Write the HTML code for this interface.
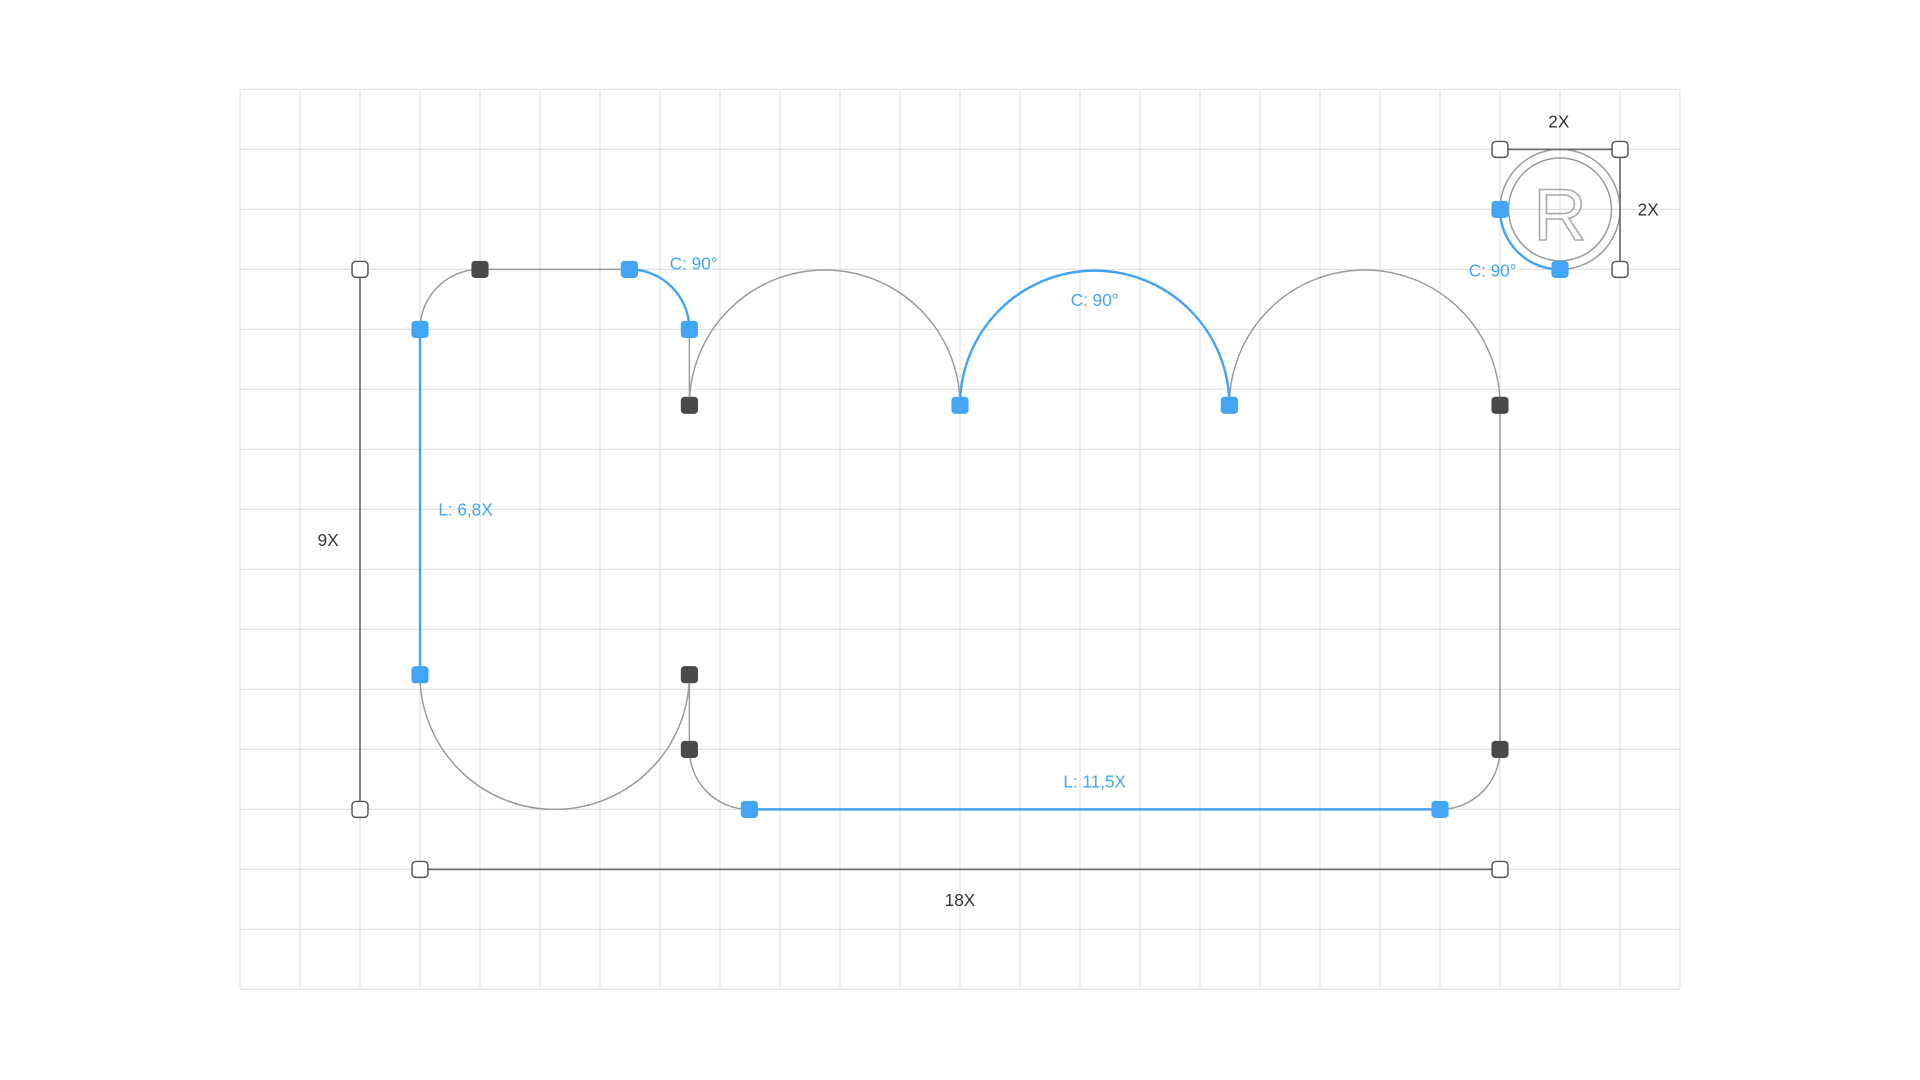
<!DOCTYPE html>
<html><head><meta charset="utf-8"><style>
html,body{margin:0;padding:0;background:#fff;width:1920px;height:1080px;overflow:hidden}
svg{display:block}
text{font-family:"Liberation Sans",sans-serif;font-size:14px}
</style></head><body>
<svg width="1920" height="1080" viewBox="0 0 1568 882" preserveAspectRatio="none" xmlns="http://www.w3.org/2000/svg">
<g stroke="#e2e2e2" stroke-width="1" fill="none">
<path d="M196 73V808M245 73V808M294 73V808M343 73V808M392 73V808M441 73V808M490 73V808M539 73V808M588 73V808M637 73V808M686 73V808M735 73V808M784 73V808M833 73V808M882 73V808M931 73V808M980 73V808M1029 73V808M1078 73V808M1127 73V808M1176 73V808M1225 73V808M1274 73V808M1323 73V808M1372 73V808"/>
<path d="M196 73H1372M196 122H1372M196 171H1372M196 220H1372M196 269H1372M196 318H1372M196 367H1372M196 416H1372M196 465H1372M196 514H1372M196 563H1372M196 612H1372M196 661H1372M196 710H1372M196 759H1372M196 808H1372"/>
</g>
<!-- gray shape -->
<g stroke="#9a9a9a" stroke-width="1.2" fill="none">
<path d="M343 269A49 49 0 0 1 392 220H514"/>
<path d="M563 269V331A110.5 110.5 0 0 1 784 331"/>
<path d="M1004 331A110.5 110.5 0 0 1 1225 331V612A49 49 0 0 1 1176 661"/>
<path d="M612 661A49 49 0 0 1 563 612V551A110 110 0 0 1 343 551"/>
<circle cx="1274" cy="171" r="49"/>
<circle cx="1274" cy="171" r="42"/>
</g>
<text x="1274" y="196" text-anchor="middle" style="font-size:60px" fill="none" stroke="#aaa" stroke-width="1.3">R</text>
<!-- blue -->
<g stroke="#42a5f5" stroke-width="2" fill="none">
<path d="M343 269V551"/>
<path d="M514 220A49 49 0 0 1 563 269"/>
<path d="M784 331A110 110 0 0 1 1004 331"/>
<path d="M612 661H1176"/>
<path d="M1225 171A49 49 0 0 0 1274 220"/>
</g>
<!-- dims -->
<g stroke="#6e6e6e" stroke-width="1.4" fill="none">
<path d="M294 220V661M343 710H1225M1225 122H1323V220"/>
</g>
<g fill="#fff" stroke="#555" stroke-width="1.2">
<rect x="287.5" y="213.5" width="13" height="13" rx="3"/>
<rect x="287.5" y="654.5" width="13" height="13" rx="3"/>
<rect x="336.5" y="703.5" width="13" height="13" rx="3"/>
<rect x="1218.5" y="703.5" width="13" height="13" rx="3"/>
<rect x="1218.5" y="115.5" width="13" height="13" rx="3"/>
<rect x="1316.5" y="115.5" width="13" height="13" rx="3"/>
<rect x="1316.5" y="213.5" width="13" height="13" rx="3"/>
</g>
<g fill="#4a4a4a">
<rect x="385" y="213" width="14" height="14" rx="3"/>
<rect x="556" y="324" width="14" height="14" rx="3"/>
<rect x="1218" y="324" width="14" height="14" rx="3"/>
<rect x="556" y="544" width="14" height="14" rx="3"/>
<rect x="556" y="605" width="14" height="14" rx="3"/>
<rect x="1218" y="605" width="14" height="14" rx="3"/>
</g>
<g fill="#42a5f5">
<rect x="507" y="213" width="14" height="14" rx="3"/>
<rect x="336" y="262" width="14" height="14" rx="3"/>
<rect x="556" y="262" width="14" height="14" rx="3"/>
<rect x="777" y="324" width="14" height="14" rx="3"/>
<rect x="997" y="324" width="14" height="14" rx="3"/>
<rect x="336" y="544" width="14" height="14" rx="3"/>
<rect x="605" y="654" width="14" height="14" rx="3"/>
<rect x="1169" y="654" width="14" height="14" rx="3"/>
<rect x="1218" y="164" width="14" height="14" rx="3"/>
<rect x="1267" y="213" width="14" height="14" rx="3"/>
</g>
<g fill="#42a5f5">
<text x="547" y="220">C: 90°</text>
<text x="894" y="250" text-anchor="middle">C: 90°</text>
<text x="1219" y="226" text-anchor="middle">C: 90°</text>
<text x="358" y="421">L: 6,8X</text>
<text x="894" y="643" text-anchor="middle">L: 11,5X</text>
</g>
<g fill="#333">
<text x="268" y="446" text-anchor="middle">9X</text>
<text x="784" y="740" text-anchor="middle">18X</text>
<text x="1273" y="104" text-anchor="middle">2X</text>
<text x="1346" y="176" text-anchor="middle">2X</text>
</g>
</svg>
</body></html>
